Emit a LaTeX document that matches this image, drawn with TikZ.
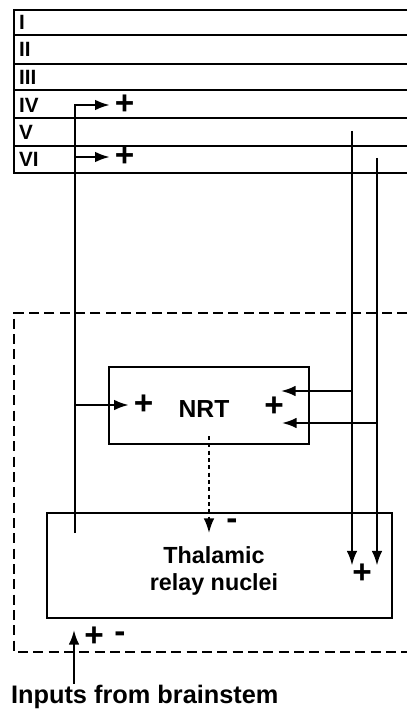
\documentclass[tikz,border=0pt]{standalone}
\usepackage{fontspec}
\setmainfont{Liberation Sans}
\usetikzlibrary{arrows.meta}

\begin{document}
\begin{tikzpicture}[every node/.style={font=\bfseries, inner sep=0pt}, >={Latex[length=11pt,width=8pt]}, x=0.75pt, y=-0.75pt, line width=1.6pt,
	box/.style={draw, rectangle, line width=1.6pt},
	sign/.style={font=\fontsize{25}{25}\selectfont\bfseries}]
	\useasboundingbox (0,0) rectangle (407,709);
	\draw (407,10) -- (14,10) -- (14,173) -- (407,173);
	\foreach \y in {35,64,90,118,146} {\draw (14,\y) -- (407,\y);}
	\foreach \n/\y/\t in {lI/22.5/I,lII/49.5/II,lIII/77/III,lIV/105/IV,lV/132/V,lVI/159.5/VI} {\node[anchor=west, font=\fontsize{15.5}{15.5}\selectfont\bfseries] (\n) at (18,\y) {\t};}
	\draw[dash pattern=on 7.5pt off 4pt] (407,313) -- (14,313) -- (14,652) -- (407,652);
	\node[box, minimum width=150pt, minimum height=57.75pt] (nrt) at (209,405.5) {};
	\node[font=\fontsize{18.5}{18.5}\selectfont\bfseries] (nrtlbl) at (204,409) {NRT};
	\node[box, minimum width=258.75pt, minimum height=78.75pt] (thal) at (219.5,565.5) {};
	\node[align=center, font=\fontsize{17.5}{20}\selectfont\bfseries] (thallbl) at (214,571) {Thalamic\\relay nuclei};
	\node[anchor=base west, font=\fontsize{19}{19}\selectfont\bfseries] (inp) at (10,703) {Inputs from brainstem};
	\node[sign] (pIV) at (124.5,105) {+};
	\node[sign] (pVI) at (124.5,157) {+};
	\node[sign] (pnrtL) at (143.5,405) {+};
	\node[sign] (pnrtR) at (274,407) {+};
	\node[sign] (mthal) at (232,524) {-};
	\node[sign] (pthal) at (362,574) {+};
	\node[sign] (pin) at (94,637) {+};
	\node[sign] (min) at (120,637) {-};
	\coordinate (cx) at (75,533);
	\coordinate (r5) at (352,131);
	\coordinate (r6) at (377,158);
	\coordinate (n5) at (281,391);
	\coordinate (n6) at (282,423);
	\coordinate (bs) at (74,630);
	\draw[->, shorten >=3pt] (cx) |- (pIV.west);
	\draw[->, shorten >=3pt] (cx |- pVI.west) -- (pVI.west);
	\draw[->, shorten >=3pt] (cx |- pnrtL.west) -- (pnrtL.west);
	\draw[->] (r5) -- (r5 |- thal.center);
	\draw[->] (r6) -- (r6 |- thal.center);
	\draw[->] (r5 |- n5) -- (n5);
	\draw[->] (r6 |- n6) -- (n6);
	\draw[->, line width=1.3pt, dash pattern=on 3pt off 2.5pt] ([yshift=6.75pt]nrt.south) -- (nrt.south |- cx);
	\draw[->] (bs |- inp.north) -- (bs);
\end{tikzpicture}
\end{document}
